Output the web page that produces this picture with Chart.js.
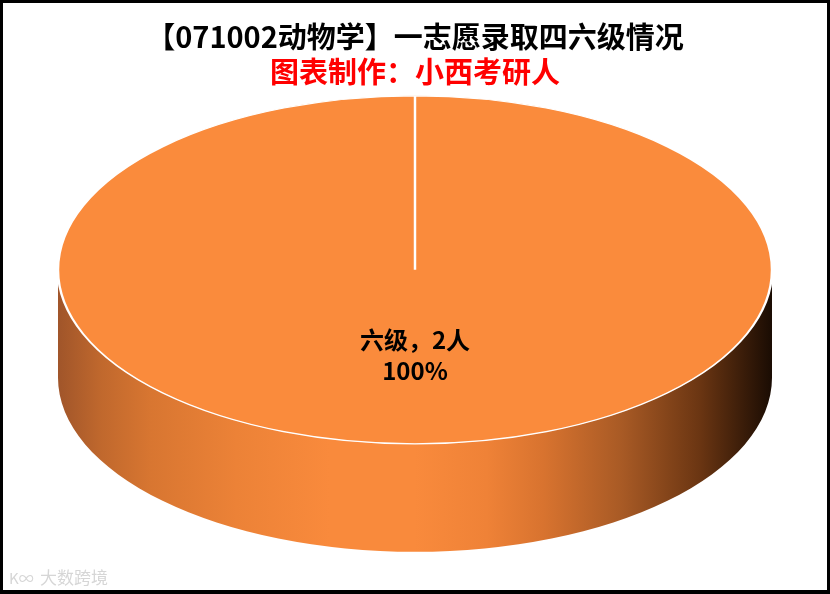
<!DOCTYPE html>
<html>
<head>
<meta charset="utf-8">
<script src="https://cdn.jsdelivr.net/npm/chart.js@4.4.1/dist/chart.umd.min.js"></script>
<style>
  html, body { margin: 0; padding: 0; background: #ffffff; }
  #wrap { width: 830px; height: 594px; position: relative; }
  canvas { display: block; }
</style>
</head>
<body>
<div id="wrap"><canvas id="c" width="830" height="594"></canvas></div>
<script>
// ---- data ----
const categories = ['六级'];
const counts = [2];
const unit = '人';
const titleText = '【071002动物学】一志愿录取四六级情况';
const subtitleText = '图表制作：小西考研人';
const watermarkText = '大数跨境';

// ---- style constants ----
const FONT = "'Noto Sans CJK SC', 'Noto Sans', sans-serif";
const TOP_COLOR = '#FA8B3C';
const RX = 357, RY = 174, DEPTH = 108;

const pie3d = {
  id: 'pie3d',
  beforeDatasetsDraw(chart) {
    const arc = chart.getDatasetMeta(0).data[0];
    if (!arc) return;
    const ctx = chart.ctx;
    const cx = arc.x, cy = arc.y, r = arc.outerRadius;
    const g = ctx.createLinearGradient(cx - RX, 0, cx + RX, 0);
    g.addColorStop(0.00, '#a0552a');
    g.addColorStop(0.06, '#c0682d');
    g.addColorStop(0.13, '#d87631');
    g.addColorStop(0.25, '#ec8237');
    g.addColorStop(0.38, '#f98a3c');
    g.addColorStop(0.50, '#f98a3c');
    g.addColorStop(0.60, '#ef8237');
    g.addColorStop(0.68, '#d8732f');
    g.addColorStop(0.79, '#a85a25');
    g.addColorStop(0.90, '#6a3512');
    g.addColorStop(1.00, '#1a0c03');
    ctx.save();
    ctx.beginPath();
    ctx.moveTo(cx - RX, cy);
    ctx.lineTo(cx - RX, cy + DEPTH);
    ctx.ellipse(cx, cy + DEPTH, RX, RY, 0, Math.PI, 0, true);
    ctx.lineTo(cx + RX, cy);
    ctx.ellipse(cx, cy, RX, RY, 0, 0, Math.PI, false);
    ctx.closePath();
    ctx.fillStyle = g;
    ctx.fill();
    ctx.restore();
    ctx.save();
    ctx.translate(cx, cy);
    ctx.scale(RX / r, RY / r);
    ctx.translate(-cx, -cy);
  },
  afterDatasetsDraw(chart) {
    const arc = chart.getDatasetMeta(0).data[0];
    if (!arc) return;
    const ctx = chart.ctx;
    ctx.restore();
    const total = counts.reduce((a, b) => a + b, 0);
    const pct = Math.round(counts[0] / total * 100) + '%';
    ctx.save();
    ctx.fillStyle = '#000000';
    ctx.font = "bold 24px " + FONT;
    ctx.textAlign = 'center';
    ctx.textBaseline = 'middle';
    ctx.fillText(categories[0] + '，' + counts[0] + unit, arc.x, arc.y + 70);
    ctx.fillText(pct, arc.x, arc.y + 101);
    ctx.restore();
  },
  afterDraw(chart) {
    const ctx = chart.ctx;
    ctx.save();
    ctx.textBaseline = 'middle';
    ctx.textAlign = 'left';
    ctx.lineWidth = 2;
    ctx.strokeStyle = 'rgba(255,255,255,0.9)';
    ctx.fillStyle = '#d6d6d6';
    ctx.font = "15px " + FONT;
    ctx.strokeText('K∞', 9, 578);
    ctx.fillText('K∞', 9, 578);
    ctx.font = "17px " + FONT;
    ctx.strokeText(watermarkText, 40, 578);
    ctx.fillText(watermarkText, 40, 578);
    ctx.fillStyle = '#000000';
    ctx.fillRect(0, 0, 830, 3);
    ctx.fillRect(0, 590, 830, 4);
    ctx.fillRect(0, 0, 3, 594);
    ctx.fillRect(827, 0, 3, 594);
    ctx.restore();
  }
};

new Chart(document.getElementById('c'), {
  type: 'pie',
  data: {
    labels: categories,
    datasets: [{
      data: counts,
      backgroundColor: [TOP_COLOR],
      borderColor: '#ffffff',
      borderWidth: 1.2,
      clip: false
    }]
  },
  options: {
    responsive: false,
    animation: false,
    events: [],
    layout: { padding: { top: 20, bottom: 150, left: 0, right: 0 } },
    plugins: {
      legend: { display: false },
      tooltip: { enabled: false },
      title: {
        display: true,
        text: titleText,
        color: '#000000',
        font: { family: FONT, size: 29, weight: 'bold', lineHeight: 1.2 },
        padding: { top: 0, bottom: 0 }
      },
      subtitle: {
        display: true,
        text: subtitleText,
        color: '#FF0000',
        font: { family: FONT, size: 29, weight: 'bold', lineHeight: 1.2 },
        padding: { top: 0, bottom: 6 }
      }
    }
  },
  plugins: [pie3d]
});
</script>
</body>
</html>
